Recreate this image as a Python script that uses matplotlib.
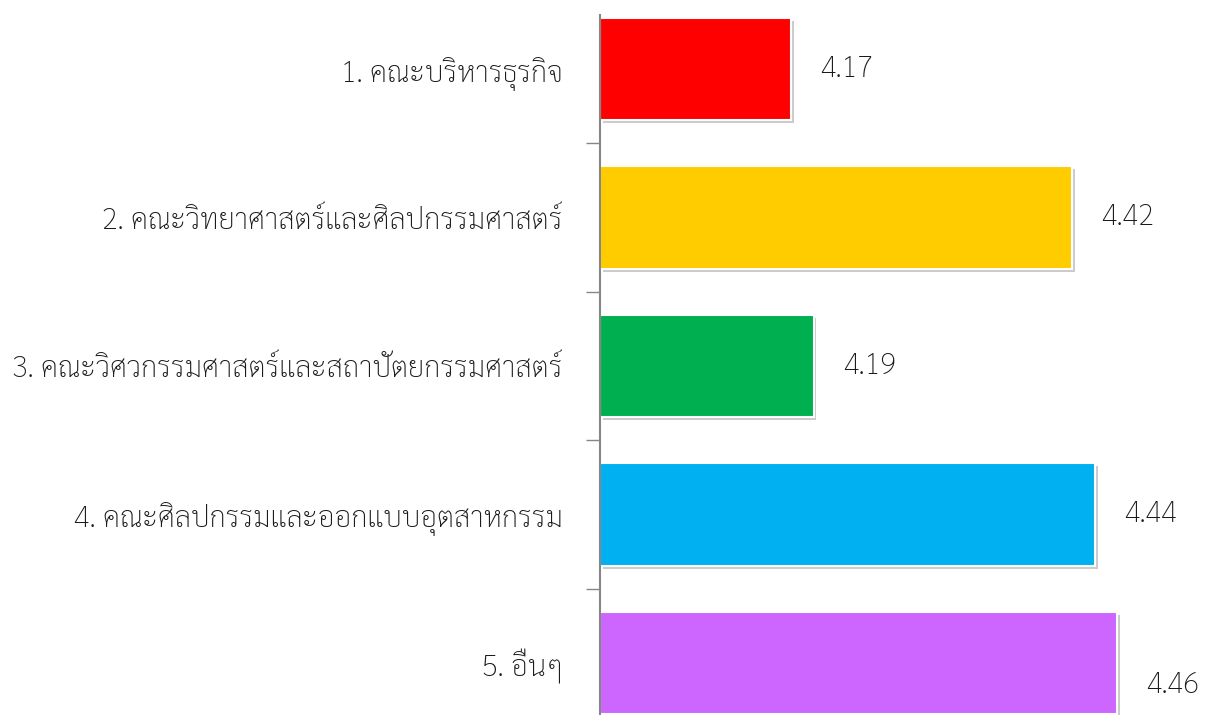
import matplotlib
matplotlib.use('Agg')
import matplotlib.pyplot as plt
import matplotlib.patheffects as pe

# faculties and mean scores
faculties = [
    '1. คณะบริหารธุรกิจ',
    '2. คณะวิทยาศาสตร์และศิลปกรรมศาสตร์',
    '3. คณะวิศวกรรมศาสตร์และสถาปัตยกรรมศาสตร์',
    '4. คณะศิลปกรรมและออกแบบอุตสาหกรรม',
    '5. อื่นๆ',
]
scores = [4.17, 4.42, 4.19, 4.44, 4.46]
colors = ['#FF0000', '#FFCC00', '#00B050', '#00B0F0', '#CC66FF']
label_dy = [0, 0, 0, 0, -22]   # last value label sits a bit lower

font = ['Sarabun', 'DejaVu Sans']

fig = plt.figure(figsize=(12.13, 7.15), dpi=100)
ax = fig.add_axes([600 / 1213, 0, 613 / 1213, 700 / 715])

y = list(range(len(faculties)))
bars = ax.barh(y, [s - 4.0 for s in scores], left=4.0, height=0.69,
               color=colors, edgecolor='white', linewidth=1.5)
for b in bars:
    b.set_path_effects([pe.SimplePatchShadow(offset=(2, -2), shadow_rgbFace='#999999', alpha=0.5),
                        pe.Normal()])

for i, s in enumerate(scores):
    ax.annotate('%.2f' % s, (s, i), xytext=(29, label_dy[i]), textcoords='offset pixels',
                ha='left', va='center', fontsize=21, color='#1a1a1a',
                family=font, fontweight='light')

ax.set_xlim(4.0, 4.545)
ax.set_ylim(4.35, -0.364)

ax.set_yticks(y)
ax.set_yticklabels(faculties, family=font, fontsize=21, color='#1a1a1a', fontweight='light')
ax.tick_params(axis='y', which='major', length=0, pad=27)
ax.set_yticks([0.5, 1.5, 2.5, 3.5], minor=True)
ax.tick_params(axis='y', which='minor', length=10, width=1, color='#868686')
ax.set_xticks([])

for side in ['top', 'right', 'bottom']:
    ax.spines[side].set_visible(False)
ax.spines['left'].set_color('#868686')
ax.spines['left'].set_linewidth(1.5)

fig.savefig('out.png')
